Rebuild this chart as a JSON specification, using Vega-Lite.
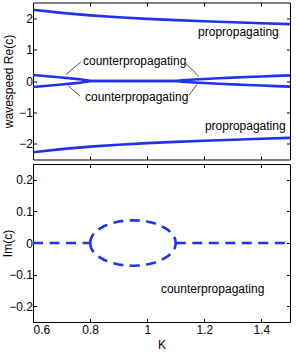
{
  "$schema": "https://vega.github.io/schema/vega-lite/v6.json",
  "padding": {"left": 0, "top": 1.5, "right": 4, "bottom": 2},
  "spacing": 2.5,
  "datasets": {
    "topLines": [
      {"K": 0.6, "v": 2.27, "s": "pu"}, {"K": 0.7, "v": 2.17, "s": "pu"}, {"K": 0.8, "v": 2.09, "s": "pu"}, {"K": 0.9, "v": 2.03, "s": "pu"}, {"K": 1.0, "v": 1.98, "s": "pu"}, {"K": 1.1, "v": 1.94, "s": "pu"}, {"K": 1.2, "v": 1.905, "s": "pu"}, {"K": 1.3, "v": 1.87, "s": "pu"}, {"K": 1.4, "v": 1.84, "s": "pu"}, {"K": 1.5, "v": 1.81, "s": "pu"},
      {"K": 0.6, "v": -2.27, "s": "pl"}, {"K": 0.7, "v": -2.17, "s": "pl"}, {"K": 0.8, "v": -2.09, "s": "pl"}, {"K": 0.9, "v": -2.03, "s": "pl"}, {"K": 1.0, "v": -1.98, "s": "pl"}, {"K": 1.1, "v": -1.94, "s": "pl"}, {"K": 1.2, "v": -1.905, "s": "pl"}, {"K": 1.3, "v": -1.87, "s": "pl"}, {"K": 1.4, "v": -1.84, "s": "pl"}, {"K": 1.5, "v": -1.81, "s": "pl"},
      {"K": 0.6, "v": 0.19, "s": "cu"}, {"K": 0.65, "v": 0.153, "s": "cu"}, {"K": 0.7, "v": 0.113, "s": "cu"}, {"K": 0.75, "v": 0.067, "s": "cu"}, {"K": 0.77, "v": 0.046, "s": "cu"}, {"K": 0.78, "v": 0.034, "s": "cu"}, {"K": 0.79, "v": 0.02, "s": "cu"}, {"K": 0.8, "v": 0, "s": "cu"}, {"K": 1.1, "v": 0, "s": "cu"}, {"K": 1.12, "v": 0.019, "s": "cu"}, {"K": 1.15, "v": 0.038, "s": "cu"}, {"K": 1.2, "v": 0.064, "s": "cu"}, {"K": 1.25, "v": 0.086, "s": "cu"}, {"K": 1.3, "v": 0.107, "s": "cu"}, {"K": 1.35, "v": 0.127, "s": "cu"}, {"K": 1.4, "v": 0.145, "s": "cu"}, {"K": 1.45, "v": 0.163, "s": "cu"}, {"K": 1.5, "v": 0.18, "s": "cu"},
      {"K": 0.6, "v": -0.19, "s": "cl"}, {"K": 0.65, "v": -0.153, "s": "cl"}, {"K": 0.7, "v": -0.113, "s": "cl"}, {"K": 0.75, "v": -0.067, "s": "cl"}, {"K": 0.77, "v": -0.046, "s": "cl"}, {"K": 0.78, "v": -0.034, "s": "cl"}, {"K": 0.79, "v": -0.02, "s": "cl"}, {"K": 0.8, "v": 0, "s": "cl"}, {"K": 1.1, "v": 0, "s": "cl"}, {"K": 1.12, "v": -0.019, "s": "cl"}, {"K": 1.15, "v": -0.038, "s": "cl"}, {"K": 1.2, "v": -0.064, "s": "cl"}, {"K": 1.25, "v": -0.086, "s": "cl"}, {"K": 1.3, "v": -0.107, "s": "cl"}, {"K": 1.35, "v": -0.127, "s": "cl"}, {"K": 1.4, "v": -0.145, "s": "cl"}, {"K": 1.45, "v": -0.163, "s": "cl"}, {"K": 1.5, "v": -0.18, "s": "cl"}
    ],
    "leaders": [
      {"K": 0.768, "v": 0.613, "K2": 0.7155, "v2": 0.204},
      {"K": 1.136, "v": 0.55, "K2": 1.181, "v2": 0.142},
      {"K": 0.765, "v": -0.487, "K2": 0.7225, "v2": -0.142},
      {"K": 1.146, "v": -0.456, "K2": 1.174, "v2": -0.11}
    ],
    "topText": [
      {"K": 1.178, "v": 1.56, "t": "propropagating"},
      {"K": 1.202, "v": -1.43, "t": "propropagating"},
      {"K": 0.775, "v": 0.645, "t": "counterpropagating"},
      {"K": 0.782, "v": -0.52, "t": "counterpropagating"}
    ],
    "botLines": [
      {"K": 0.6, "v": 0, "s": "zl"}, {"K": 0.8, "v": 0, "s": "zl"},
      {"K": 0.8, "v": 0, "s": "au"}, {"K": 0.802, "v": 0.0117, "s": "au"}, {"K": 0.805, "v": 0.0184, "s": "au"}, {"K": 0.81, "v": 0.0259, "s": "au"}, {"K": 0.82, "v": 0.0359, "s": "au"}, {"K": 0.83, "v": 0.0432, "s": "au"}, {"K": 0.85, "v": 0.0537, "s": "au"}, {"K": 0.875, "v": 0.0624, "s": "au"}, {"K": 0.9, "v": 0.0679, "s": "au"}, {"K": 0.925, "v": 0.071, "s": "au"}, {"K": 0.95, "v": 0.072, "s": "au"}, {"K": 0.975, "v": 0.071, "s": "au"}, {"K": 1.0, "v": 0.0679, "s": "au"}, {"K": 1.025, "v": 0.0624, "s": "au"}, {"K": 1.05, "v": 0.0537, "s": "au"}, {"K": 1.07, "v": 0.0432, "s": "au"}, {"K": 1.08, "v": 0.0359, "s": "au"}, {"K": 1.09, "v": 0.0259, "s": "au"}, {"K": 1.095, "v": 0.0184, "s": "au"}, {"K": 1.098, "v": 0.0117, "s": "au"}, {"K": 1.1, "v": 0, "s": "au"},
      {"K": 0.8, "v": 0, "s": "al"}, {"K": 0.802, "v": -0.0117, "s": "al"}, {"K": 0.805, "v": -0.0184, "s": "al"}, {"K": 0.81, "v": -0.0259, "s": "al"}, {"K": 0.82, "v": -0.0359, "s": "al"}, {"K": 0.83, "v": -0.0432, "s": "al"}, {"K": 0.85, "v": -0.0537, "s": "al"}, {"K": 0.875, "v": -0.0624, "s": "al"}, {"K": 0.9, "v": -0.0679, "s": "al"}, {"K": 0.925, "v": -0.071, "s": "al"}, {"K": 0.95, "v": -0.072, "s": "al"}, {"K": 0.975, "v": -0.071, "s": "al"}, {"K": 1.0, "v": -0.0679, "s": "al"}, {"K": 1.025, "v": -0.0624, "s": "al"}, {"K": 1.05, "v": -0.0537, "s": "al"}, {"K": 1.07, "v": -0.0432, "s": "al"}, {"K": 1.08, "v": -0.0359, "s": "al"}, {"K": 1.09, "v": -0.0259, "s": "al"}, {"K": 1.095, "v": -0.0184, "s": "al"}, {"K": 1.098, "v": -0.0117, "s": "al"}, {"K": 1.1, "v": 0, "s": "al"},
      {"K": 1.1, "v": 0, "s": "zr"}, {"K": 1.5, "v": 0, "s": "zr"}
    ],
    "botText": [
      {"K": 1.048, "v": -0.147, "t": "counterpropagating"}
    ]
  },
  "vconcat": [
    {
      "width": 257,
      "height": 157,
      "resolve": {"axis": {"x": "independent", "y": "independent"}},
      "layer": [
        {
          "data": {"name": "topLines"},
          "mark": {"type": "line", "color": "#1e32f0", "strokeWidth": 2.6},
          "encoding": {
            "x": {"field": "K", "type": "quantitative", "scale": {"domain": [0.6, 1.5], "nice": false, "zero": false},
                  "axis": {"orient": "bottom", "values": [0.6, 0.8, 1, 1.2, 1.4], "labels": false, "title": null}},
            "y": {"field": "v", "type": "quantitative", "scale": {"domain": [-2.5, 2.5], "nice": false, "zero": false},
                  "axis": {"orient": "left", "values": [-2, -1, 0, 1, 2], "format": "~g", "title": "wavespeed Re(c)",
                           "titleX": -21, "titleY": 78.5, "titleAngle": -90, "titleAlign": "center", "titleBaseline": "alphabetic"}},
            "detail": {"field": "s"}
          }
        },
        {
          "data": {"name": "leaders"},
          "mark": {"type": "rule", "color": "#222222", "strokeWidth": 0.8},
          "encoding": {
            "x": {"field": "K", "type": "quantitative", "scale": {"domain": [0.6, 1.5], "nice": false, "zero": false}, "axis": null},
            "x2": {"field": "K2"},
            "y": {"field": "v", "type": "quantitative", "scale": {"domain": [-2.5, 2.5], "nice": false, "zero": false}, "axis": null},
            "y2": {"field": "v2"}
          }
        },
        {
          "data": {"name": "topText"},
          "mark": {"type": "text", "align": "left", "baseline": "middle", "fontSize": 12, "font": "Liberation Sans", "color": "black"},
          "encoding": {
            "x": {"field": "K", "type": "quantitative", "scale": {"domain": [0.6, 1.5], "nice": false, "zero": false},
                  "axis": {"orient": "top", "values": [0.6, 0.8, 1, 1.2, 1.4], "labels": false, "title": null}},
            "y": {"field": "v", "type": "quantitative", "scale": {"domain": [-2.5, 2.5], "nice": false, "zero": false},
                  "axis": {"orient": "right", "values": [-2, -1, 0, 1, 2], "labels": false, "title": null}},
            "text": {"field": "t"}
          }
        }
      ]
    },
    {
      "width": 257,
      "height": 158,
      "resolve": {"axis": {"x": "independent", "y": "independent"}},
      "layer": [
        {
          "data": {"name": "botLines"},
          "mark": {"type": "line", "color": "#1e32f0", "strokeWidth": 2.6, "strokeDash": [10, 6.5], "strokeCap": "butt"},
          "encoding": {
            "x": {"field": "K", "type": "quantitative", "scale": {"domain": [0.6, 1.5], "nice": false, "zero": false},
                  "axis": {"orient": "bottom", "values": [0.6, 0.8, 1, 1.2, 1.4], "format": "~g", "title": "K", "labelPadding": 6, "titlePadding": 4}},
            "y": {"field": "v", "type": "quantitative", "scale": {"domain": [-0.25, 0.25], "nice": false, "zero": false},
                  "axis": {"orient": "left", "values": [-0.2, -0.1, 0, 0.1, 0.2], "format": "~g", "title": "Im(c)",
                           "titleX": -22, "titleY": 79, "titleAngle": -90, "titleAlign": "center", "titleBaseline": "alphabetic"}},
            "detail": {"field": "s"}
          }
        },
        {
          "data": {"name": "botText"},
          "mark": {"type": "text", "align": "left", "baseline": "middle", "fontSize": 12, "font": "Liberation Sans", "color": "black"},
          "encoding": {
            "x": {"field": "K", "type": "quantitative", "scale": {"domain": [0.6, 1.5], "nice": false, "zero": false},
                  "axis": {"orient": "top", "values": [0.6, 0.8, 1, 1.2, 1.4], "labels": false, "title": null}},
            "y": {"field": "v", "type": "quantitative", "scale": {"domain": [-0.25, 0.25], "nice": false, "zero": false},
                  "axis": {"orient": "right", "values": [-0.2, -0.1, 0, 0.1, 0.2], "labels": false, "title": null}},
            "text": {"field": "t"}
          }
        }
      ]
    }
  ],
  "config": {
    "font": "Liberation Sans",
    "view": {"stroke": "black", "strokeWidth": 1},
    "axis": {
      "grid": false,
      "domain": false,
      "ticks": true,
      "tickColor": "black",
      "tickSize": -3.5,
      "tickWidth": 1,
      "labelPadding": 4,
      "labelFont": "Liberation Sans",
      "labelFontSize": 12,
      "labelColor": "black",
      "titleFont": "Liberation Sans",
      "titleFontSize": 12,
      "titleFontWeight": "normal",
      "titleColor": "black"
    }
  }
}
